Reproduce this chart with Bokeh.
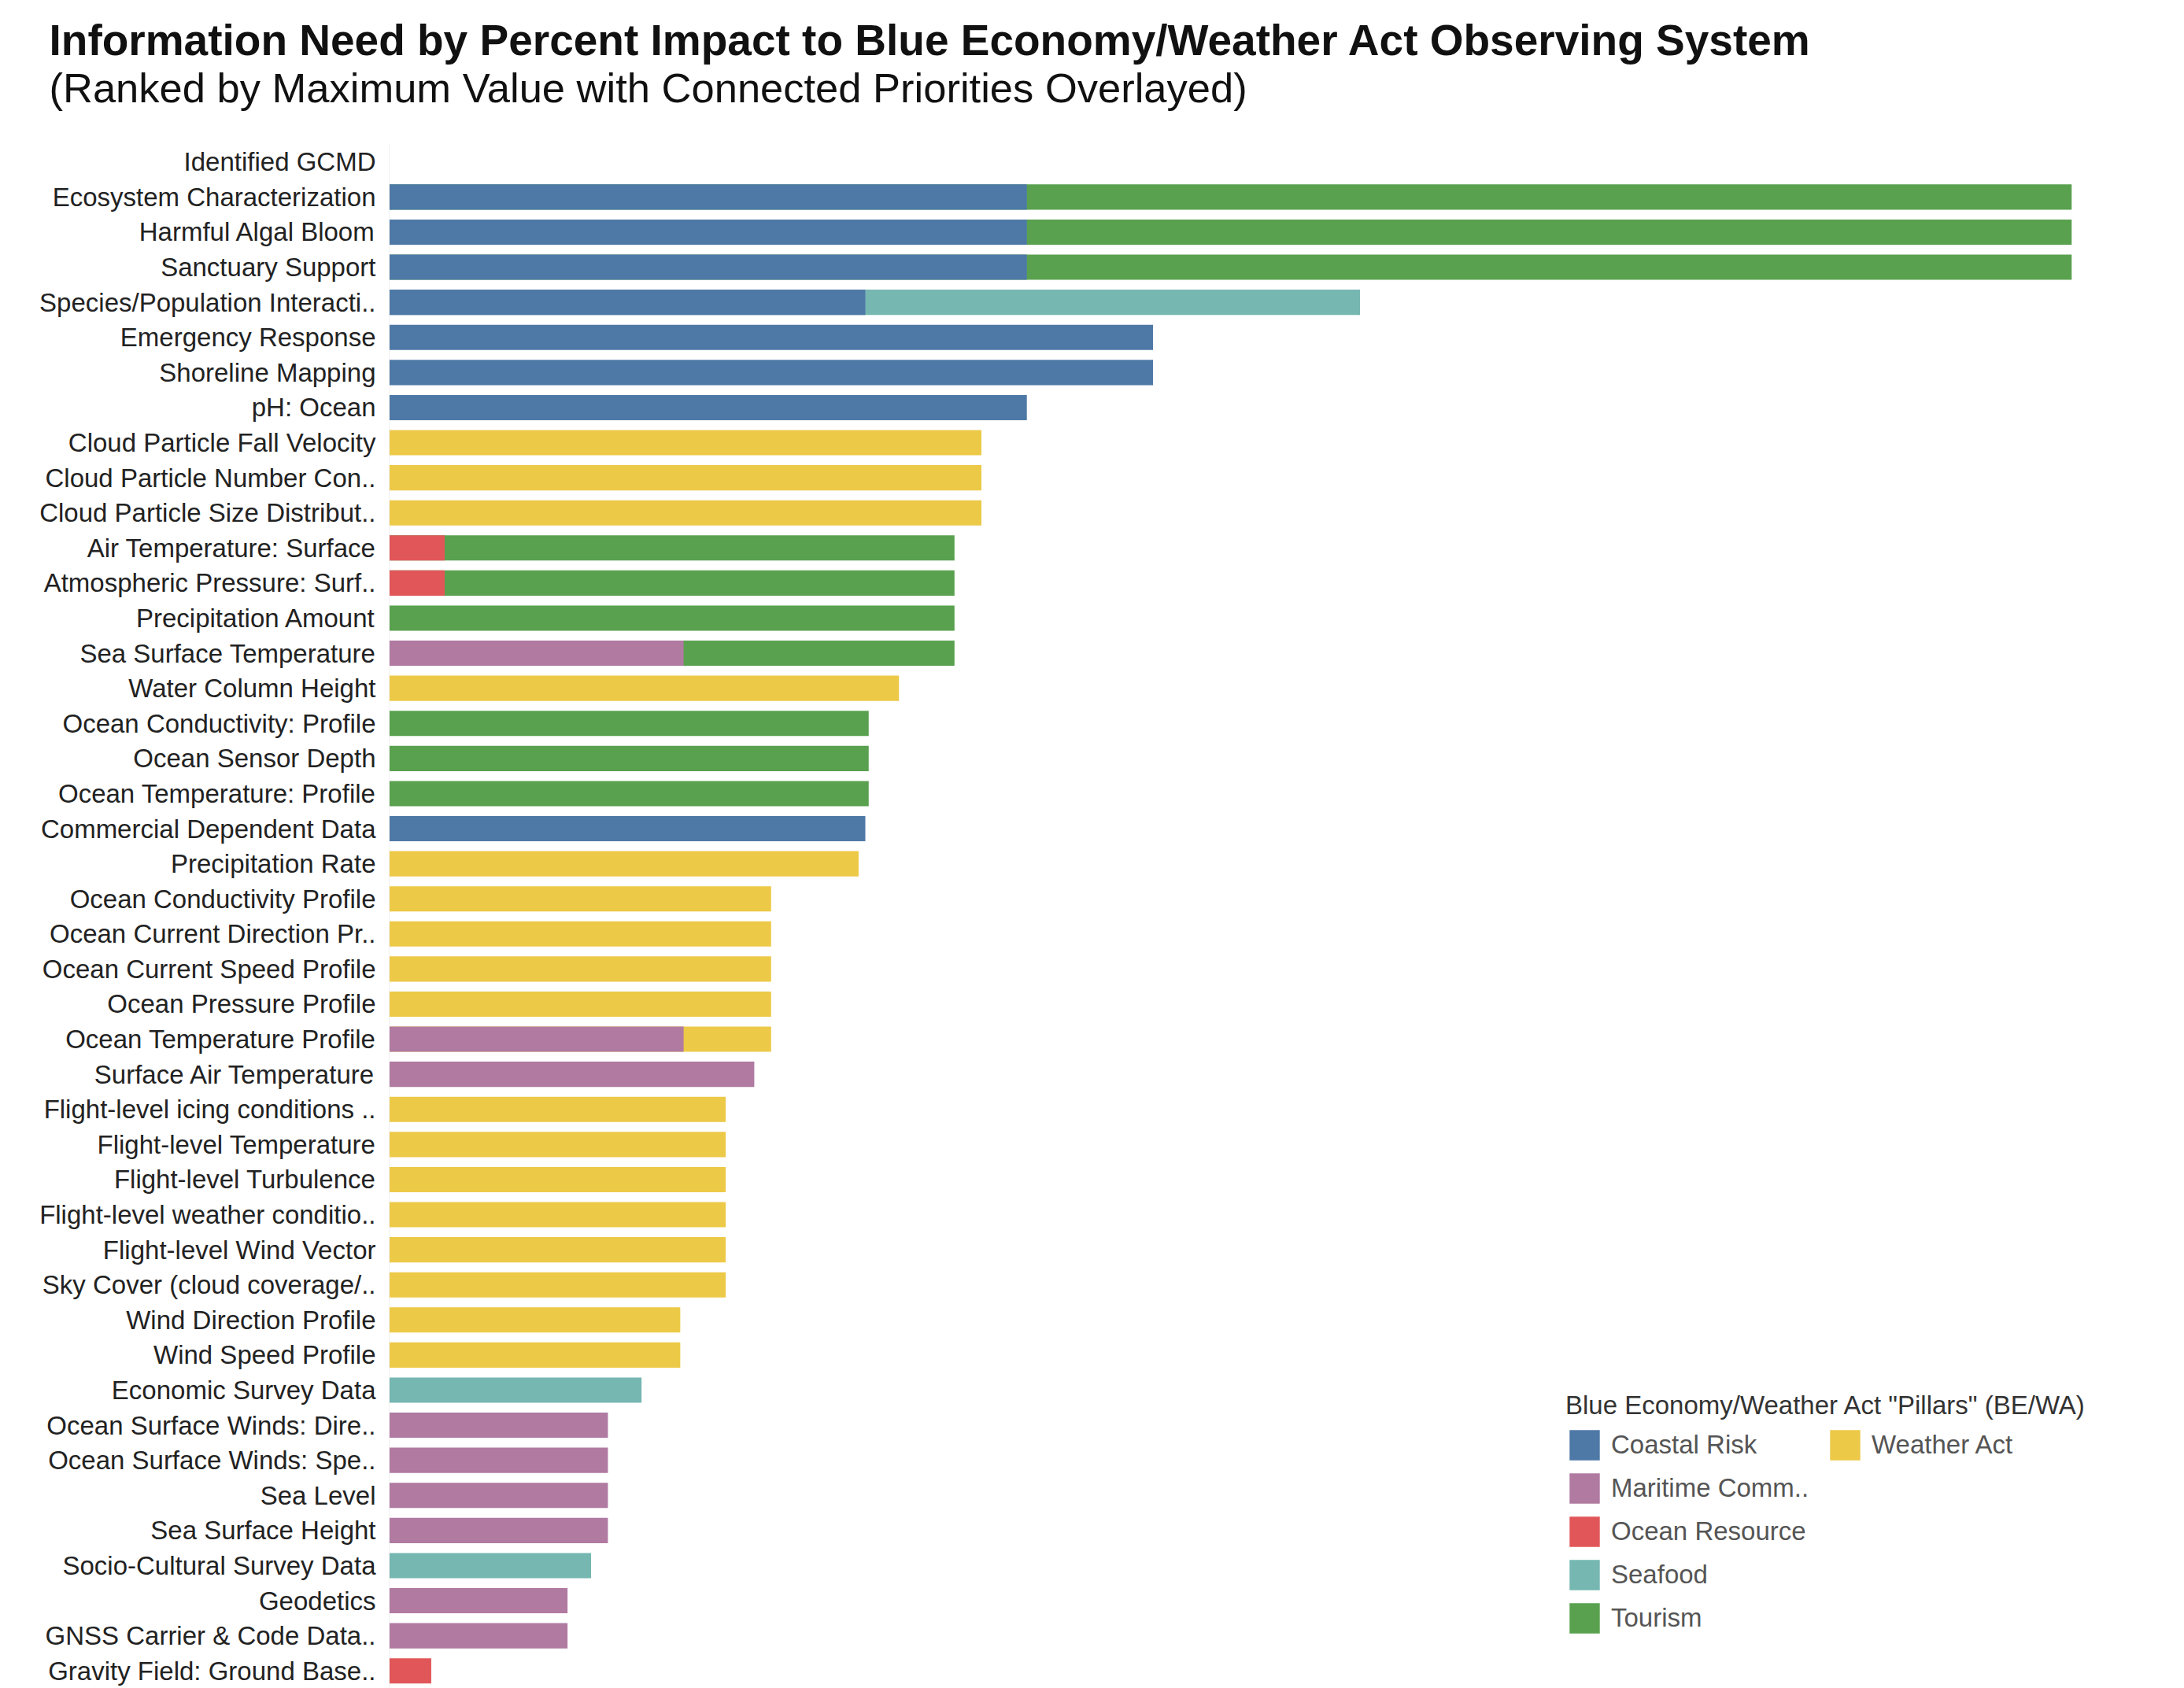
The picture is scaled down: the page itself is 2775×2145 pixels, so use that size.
from bokeh.plotting import figure
from bokeh.models import Range1d, FactorRange, Legend, LegendItem, Title, ColumnDataSource
from bokeh.embed import file_html
from bokeh.resources import INLINE

# ---------------- data ----------------
categories = [
    "Identified GCMD",
    "Ecosystem Characterization",
    "Harmful Algal Bloom",
    "Sanctuary Support",
    "Species/Population Interacti..",
    "Emergency Response",
    "Shoreline Mapping",
    "pH: Ocean",
    "Cloud Particle Fall Velocity",
    "Cloud Particle Number Con..",
    "Cloud Particle Size Distribut..",
    "Air Temperature: Surface",
    "Atmospheric Pressure: Surf..",
    "Precipitation Amount",
    "Sea Surface Temperature",
    "Water Column Height",
    "Ocean Conductivity: Profile",
    "Ocean Sensor Depth",
    "Ocean Temperature: Profile",
    "Commercial Dependent Data",
    "Precipitation Rate",
    "Ocean Conductivity Profile",
    "Ocean Current Direction Pr..",
    "Ocean Current Speed Profile",
    "Ocean Pressure Profile",
    "Ocean Temperature Profile",
    "Surface Air Temperature",
    "Flight-level icing conditions ..",
    "Flight-level Temperature",
    "Flight-level Turbulence",
    "Flight-level weather conditio..",
    "Flight-level Wind Vector",
    "Sky Cover (cloud coverage/..",
    "Wind Direction Profile",
    "Wind Speed Profile",
    "Economic Survey Data",
    "Ocean Surface Winds: Dire..",
    "Ocean Surface Winds: Spe..",
    "Sea Level",
    "Sea Surface Height",
    "Socio-Cultural Survey Data",
    "Geodetics",
    "GNSS Carrier & Code Data..",
    "Gravity Field: Ground Base..",
]

tourism_items = ["Ecosystem Characterization", "Harmful Algal Bloom", "Sanctuary Support",
                 "Air Temperature: Surface", "Atmospheric Pressure: Surf..", "Precipitation Amount",
                 "Sea Surface Temperature", "Ocean Conductivity: Profile", "Ocean Sensor Depth",
                 "Ocean Temperature: Profile"]
tourism_values = [100.0, 100.0, 100.0, 33.6, 33.6, 33.6, 33.6, 28.5, 28.5, 28.5]

seafood_items = ["Species/Population Interacti..", "Economic Survey Data", "Socio-Cultural Survey Data"]
seafood_values = [57.7, 15.0, 12.0]

weather_act_items = ["Cloud Particle Fall Velocity", "Cloud Particle Number Con..",
                     "Cloud Particle Size Distribut..", "Water Column Height", "Precipitation Rate",
                     "Ocean Conductivity Profile", "Ocean Current Direction Pr..",
                     "Ocean Current Speed Profile", "Ocean Pressure Profile", "Ocean Temperature Profile",
                     "Flight-level icing conditions ..", "Flight-level Temperature",
                     "Flight-level Turbulence", "Flight-level weather conditio..",
                     "Flight-level Wind Vector", "Sky Cover (cloud coverage/..",
                     "Wind Direction Profile", "Wind Speed Profile"]
weather_act_values = [35.2, 35.2, 35.2, 30.3, 27.9, 22.7, 22.7, 22.7, 22.7, 22.7,
                      20.0, 20.0, 20.0, 20.0, 20.0, 20.0, 17.3, 17.3]

coastal_risk_items = ["Ecosystem Characterization", "Harmful Algal Bloom", "Sanctuary Support",
                      "Species/Population Interacti..", "Emergency Response", "Shoreline Mapping",
                      "pH: Ocean", "Commercial Dependent Data"]
coastal_risk_values = [37.9, 37.9, 37.9, 28.3, 45.4, 45.4, 37.9, 28.3]

maritime_items = ["Sea Surface Temperature", "Ocean Temperature Profile", "Surface Air Temperature",
                  "Ocean Surface Winds: Dire..", "Ocean Surface Winds: Spe..", "Sea Level",
                  "Sea Surface Height", "Geodetics", "GNSS Carrier & Code Data.."]
maritime_values = [17.5, 17.5, 21.7, 13.0, 13.0, 13.0, 13.0, 10.6, 10.6]

ocean_resource_items = ["Air Temperature: Surface", "Atmospheric Pressure: Surf..",
                        "Gravity Field: Ground Base.."]
ocean_resource_values = [3.3, 3.3, 2.5]

pillar_names = ["Coastal Risk", "Maritime Comm..", "Ocean Resource", "Seafood", "Tourism", "Weather Act"]
pillar_colors = ["#4E79A7", "#B07AA1", "#E15759", "#76B7B2", "#59A14F", "#EDC948"]

# ---------------- figure ----------------
p = figure(width=2775, height=2145, title=None,
           y_range=FactorRange(*list(reversed(categories))),
           x_range=Range1d(0, 106.7),
           output_backend="svg", toolbar_location=None,
           min_border_left=494, min_border_right=0,
           min_border_top=183, min_border_bottom=0)

p.outline_line_color = None
p.xgrid.visible = False
p.ygrid.visible = False
p.xaxis.visible = False
p.background_fill_color = "white"

ax = p.yaxis[0]
ax.major_tick_line_color = None
ax.minor_tick_line_color = None
ax.major_tick_out = 0
ax.major_tick_in = 0
ax.axis_line_color = "#f0f0f0"
ax.major_label_standoff = 17
ax.major_label_text_font = "Liberation Sans"
ax.major_label_text_font_size = "33px"
ax.major_label_text_color = "#222222"

# draw longer (background) pillars first, overlaid shorter pillars on top
draw_order = [
    ("Tourism", tourism_items, tourism_values),
    ("Seafood", seafood_items, seafood_values),
    ("Weather Act", weather_act_items, weather_act_values),
    ("Coastal Risk", coastal_risk_items, coastal_risk_values),
    ("Maritime Comm..", maritime_items, maritime_values),
    ("Ocean Resource", ocean_resource_items, ocean_resource_values),
]
renderers = {}
for name, items, vals in draw_order:
    color = pillar_colors[pillar_names.index(name)]
    src = ColumnDataSource(dict(y=items, right=vals))
    r = p.hbar(y="y", left=0, right="right", height=0.72, source=src,
               fill_color=color, line_color=color, line_width=0)
    renderers[name] = r

legend_style = dict(
    padding=0, margin=0, border_line_color=None, background_fill_alpha=0,
    label_text_font="Liberation Sans", label_text_font_size="33px",
    label_text_color="#555555", glyph_width=48, glyph_height=48,
    label_height=48, spacing=7, label_standoff=10,
)

leg1 = Legend(
    items=[LegendItem(label=n, renderers=[renderers[n]])
           for n in ["Coastal Risk", "Maritime Comm..", "Ocean Resource", "Seafood", "Tourism"]],
    title='Blue Economy/Weather Act "Pillars" (BE/WA)',
    title_text_font="Liberation Sans", title_text_font_size="33px",
    title_text_font_style="normal", title_text_color="#333333", title_standoff=7,
    location=(1495, 65), **legend_style)
leg2 = Legend(items=[LegendItem(label="Weather Act", renderers=[renderers["Weather Act"]])],
              location=(1826, 285), **legend_style)
p.add_layout(leg1)
p.add_layout(leg2)

sub = Title(text="(Ranked by Maximum Value with Connected Priorities Overlayed)",
            text_font="Liberation Sans", text_font_size="52.5px", text_font_style="normal",
            text_color="#111111", align="left", offset=-432, standoff=86)
main = Title(text="Information Need by Percent Impact to Blue Economy/Weather Act Observing System",
             text_font="Liberation Sans", text_font_size="55px", text_font_style="bold",
             text_color="#111111", align="left", offset=-432, standoff=-90)
p.add_layout(sub, "above")
p.add_layout(main, "above")

open("out.html", "w").write(file_html(p, INLINE))
